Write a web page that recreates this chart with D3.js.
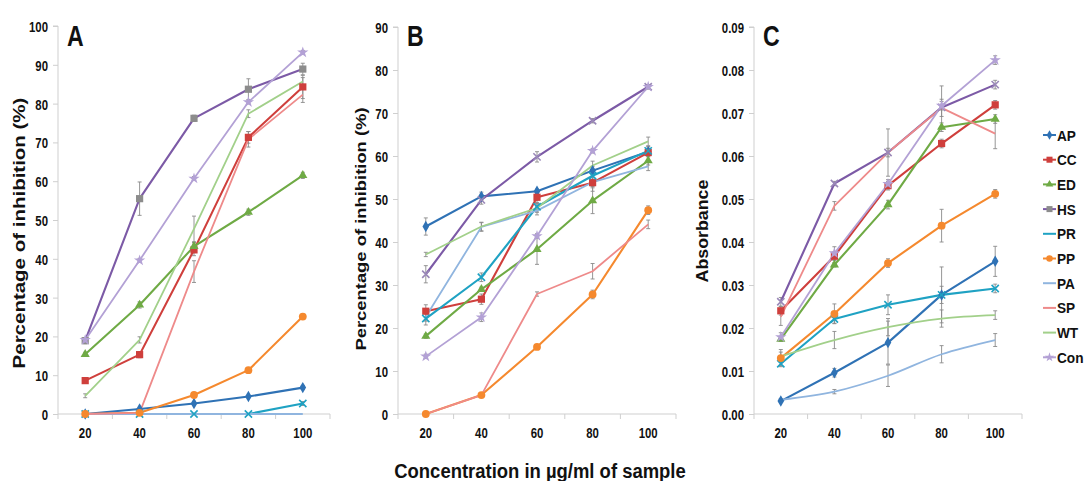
<!DOCTYPE html>
<html><head><meta charset="utf-8">
<script src="https://cdn.jsdelivr.net/npm/d3@7"></script>
<style>
body{margin:0;background:#fff;}
svg{display:block;}
text{font-family:"Liberation Sans",Arial,sans-serif;font-weight:bold;fill:#111;}
</style></head>
<body>
<svg id="chart" width="1085" height="481"></svg>
<script>
const categories = [20, 40, 60, 80, 100];
const seriesNames = ["AP","CC","ED","HS","PR","PP","PA","SP","WT","Con"];

// Panel A: % inhibition
const panelA = [
  [0, 1.3, 2.7, 4.5, 6.8],
  [8.6, 15.3, 42.3, 71.3, 84.3],
  [15.4, 28.1, 43.2, 52.0, 61.5],
  [18.9, 55.5, 76.2, 83.7, 88.9],
  [0, 0, 0, 0, 2.7],
  [0, 0.3, 4.9, 11.3, 25.1],
  [0, 0, 0, 0, 0],
  [0, 0.3, 36.7, 70.8, 82.3],
  [4.7, 19.1, 47.7, 77.4, 85.7],
  [19.1, 39.6, 60.7, 80.4, 93.2]
];
const panelAErr = [
  [0,0,0,0,0.5],[0.5,0.8,1.5,1.5,3],[0.5,0.8,1,0.8,0.8],[0.8,4.3,0.8,2.7,1.5],
  [0,0,0,0,0.5],[0,0,0.5,0.5,0.5],[0,0,0,0,0],[0,0,2.8,2,2],[0.5,0.8,3.3,1,1],[0.5,0.5,0.5,0.5,0.5]
];
// Panel B: % inhibition
const panelB = [
  [43.6, 50.6, 51.8, 56.6, 61.0],
  [23.9, 26.7, 50.4, 53.8, 60.8],
  [18.1, 29.0, 38.3, 49.6, 58.9],
  [32.5, 49.8, 59.8, 68.2, 76.1],
  [22.2, 31.8, 48.2, 55.4, 61.2],
  [0, 4.4, 15.6, 27.8, 47.4],
  [22.6, 43.5, 47.3, 53.9, 57.6],
  [0, 4.4, 27.9, 33.2, 44.1],
  [37.1, 43.6, 47.9, 57.8, 63.4],
  [13.4, 22.5, 41.4, 61.2, 76.1]
];
const panelBErr = [
  [2,1,0.5,1,0.8],[1.5,1.2,1.5,2,1],[0.5,0.5,3.5,3,1],[2,1,1.2,0.5,0.5],[1.5,1,1,1,1],
  [0,0,0.5,1,1],[1,1,1,1,1],[0,0.5,0.5,1.8,1],[0.5,1,1,1,1],[0.5,1,0.5,0.5,0.5]
];
// Panel C: absorbance
const panelC = [
  [0.0030, 0.0096, 0.0166, 0.0277, 0.0355],
  [0.0240, 0.0367, 0.0531, 0.0629, 0.0719],
  [0.0174, 0.0347, 0.0487, 0.0667, 0.0686],
  [0.0261, 0.0536, 0.0608, 0.0713, 0.0766],
  [0.0117, 0.0221, 0.0254, 0.0277, 0.0292],
  [0.0130, 0.0233, 0.0351, 0.0438, 0.0512],
  [0.0033, 0.0052, 0.0089, 0.0139, 0.0172],
  [0.0226, 0.0484, 0.0608, 0.0712, 0.0652],
  [0.0134, 0.0172, 0.0202, 0.0222, 0.0230],
  [0.0179, 0.0374, 0.0535, 0.0717, 0.0823]
];
const panelCErr = [
  [0.0003,0.001,0.005,0.0065,0.0035],[0.001,0.001,0.001,0.001,0.001],[0.0005,0.0005,0.001,0.001,0.001],
  [0.001,0.0005,0.0055,0.005,0.001],[0.0005,0.001,0.0023,0.002,0.001],[0.002,0.0023,0.001,0.0038,0.001],
  [0.0003,0.0005,0.0025,0.002,0.0015],[0.002,0.001,0.001,0.002,0.0035],[0.001,0.002,0.002,0.002,0.001],[0.001,0.0015,0.001,0.001,0.001]
];
const ticksA = [0,10,20,30,40,50,60,70,80,90,100];
const ticksB = [0,10,20,30,40,50,60,70,80,90];
const ticksC = [0,0.01,0.02,0.03,0.04,0.05,0.06,0.07,0.08,0.09];

const lineColors = ["#2f72b5","#cf3f3c","#6faa45","#7c5aa6","#1fa2c3","#f5892e","#90b5df","#ee8a8a","#a2d08a","#b3a1d5"];
const markerColors = ["#2f72b5","#cf3f3c","#6faa45","#8c8c8c","#1fa2c3","#f5892e","#90b5df","#ee8a8a","#a2d08a","#b3a1d5"];
const markerTypes = ["diamond","square","triangle","square","cross","circle","none","none","none","star"];

const svg = d3.select("#chart");
const SX = 0.76; // horizontal squeeze of tick labels
const TICK_FS = 15;

function ntext(g, x, y, str, size, sx, anchor, rot, sy) {
  const tr = `translate(${x},${y})` + (rot ? ` rotate(${rot})` : "") + ` scale(${sx},${sy || 1})`;
  return g.append("text").attr("transform", tr).attr("text-anchor", anchor || "start")
    .style("font-size", size + "px").text(str);
}

function marker(g, type, x, y, color, size) {
  const s = size || 1;
  let sym = null, area = 0;
  if (type === "diamond") { sym = d3.symbolDiamond; area = 38*s; }
  else if (type === "square") { sym = d3.symbolSquare; area = 52*s; }
  else if (type === "triangle") { sym = d3.symbolTriangle; area = 36*s; }
  else if (type === "circle") { sym = d3.symbolCircle; area = 48*s; }
  else if (type === "star") { sym = d3.symbolStar; area = 40*s; }
  else if (type === "cross") { sym = d3.symbolX; area = 36*s; }
  if (!sym) return;
  const p = g.append("path").attr("d", d3.symbol().type(sym).size(area)()).attr("transform", `translate(${x},${y})`);
  if (type === "cross") p.attr("fill","none").attr("stroke",color).attr("stroke-width",1.6);
  else p.attr("fill",color);
}

function drawPanel(cfg) {
  const g = svg.append("g");
  const x = d3.scaleBand().domain(categories).range([cfg.x0, cfg.x1]).padding(0);
  const y = d3.scaleLinear().domain([0, cfg.ymax]).range([414, cfg.ytop]);
  // y axis
  const yAxis = d3.axisLeft(y).tickValues(cfg.ticks).tickSize(5).tickFormat(cfg.fmt);
  const ya = g.append("g").attr("transform", `translate(${cfg.x0},0)`).call(yAxis);
  ya.select(".domain").attr("stroke","#cfcfcf").attr("d", `M-5,${cfg.ytop}H0V414`);
  ya.selectAll(".tick line").attr("stroke","#cfcfcf");
  ya.selectAll(".tick text").attr("x", -10/SX).attr("dy","0.36em").attr("transform",`scale(${SX},1)`)
    .attr("font-family",null).attr("font-size",null).style("font-size",TICK_FS+"px").attr("fill","#111");
  // x axis
  const xa = g.append("g").attr("transform","translate(0,414)");
  xa.append("line").attr("x1",cfg.x0).attr("x2",cfg.x1).attr("stroke","#cfcfcf");
  const bounds = categories.map(c => x(c)).concat([cfg.x1]);
  xa.selectAll("line.tk").data(bounds).join("line").attr("class","tk")
    .attr("x1",d=>d).attr("x2",d=>d).attr("y1",0).attr("y2",5).attr("stroke","#cfcfcf");
  categories.forEach(c => ntext(xa, x(c) + x.bandwidth()/2, 23.5, c, TICK_FS, SX, "middle"));
  // panel letter
  ntext(g, cfg.x0 + 9, 46, cfg.letter, 30, 0.77, "start");
  // y title
  ntext(g, cfg.titleX, cfg.titleY, cfg.title, cfg.titleSize, 1, "middle", -90, cfg.titleSy);
  const cx = d => x(d) + x.bandwidth()/2;
  // error bars
  cfg.data.forEach((vals, si) => {
    vals.forEach((v, i) => {
      const e = cfg.err[si][i];
      if (!e) return;
      const px = cx(categories[i]);
      const eg = g.append("g").attr("stroke","#8a8a8a").attr("stroke-width",0.9);
      eg.append("line").attr("x1",px).attr("x2",px).attr("y1",y(v-e)).attr("y2",y(v+e));
      eg.append("line").attr("x1",px-2).attr("x2",px+2).attr("y1",y(v-e)).attr("y2",y(v-e));
      eg.append("line").attr("x1",px-2).attr("x2",px+2).attr("y1",y(v+e)).attr("y2",y(v+e));
    });
  });
  // lines
  cfg.data.forEach((vals, si) => {
    const smooth = cfg.smooth && cfg.smooth.includes(seriesNames[si]);
    const line = d3.line().x((d,i) => cx(categories[i])).y(d => y(d)).curve(smooth ? d3.curveCatmullRom : d3.curveLinear);
    const light = ["PA","SP","WT","Con"].includes(seriesNames[si]);
    g.append("path").datum(vals).attr("d", line).attr("fill","none")
      .attr("stroke", lineColors[si]).attr("stroke-width", light ? 1.8 : 2.1).attr("stroke-linejoin","round");
  });
  // markers
  cfg.data.forEach((vals, si) => {
    let type = markerTypes[si];
    let col = markerColors[si];
    if (seriesNames[si] === "HS" && cfg.letter !== "A") { type = "cross"; col = "#9a88b8"; }
    vals.forEach((v, i) => marker(g, type, cx(categories[i]), y(v), col));
  });
}

drawPanel({letter:"A", x0:58, x1:330, ytop:26, ymax:100, ticks:ticksA, fmt:d3.format("d"),
  data:panelA, err:panelAErr, title:"Percentage of inhibition (%)", titleX:25, titleY:233, titleSize:20.5, titleSy:0.8});
drawPanel({letter:"B", x0:398, x1:676, ytop:27, ymax:90, ticks:ticksB, fmt:d3.format("d"),
  data:panelB, err:panelBErr, title:"Percentage of inhibition (%)", titleX:366, titleY:229, titleSize:18.4, titleSy:0.82});
drawPanel({letter:"C", x0:754, x1:1022, ytop:27, ymax:0.09, ticks:ticksC, fmt:d3.format(".2f"),
  data:panelC, err:panelCErr, title:"Absorbance", titleX:708, titleY:231, titleSize:17.8, titleSy:0.94, smooth:["PA","WT"]});

// shared x title
ntext(svg, 540, 478, "Concentration in µg/ml of sample", 20.5, 0.9, "middle");

// legend
const lg = svg.append("g");
seriesNames.forEach((n, i) => {
  const yy = 135 + i*24.7;
  lg.append("line").attr("x1",1043).attr("x2",1056).attr("y1",yy).attr("y2",yy).attr("stroke",lineColors[i]).attr("stroke-width",2);
  const t = markerTypes[i];
  if (t !== "none" && t !== "cross") marker(lg, t, 1049.5, yy, markerColors[i], 0.7);
  ntext(lg, 1057, yy + 5.5, n, 15.5, 0.88, "start");
});
</script>
</body></html>
